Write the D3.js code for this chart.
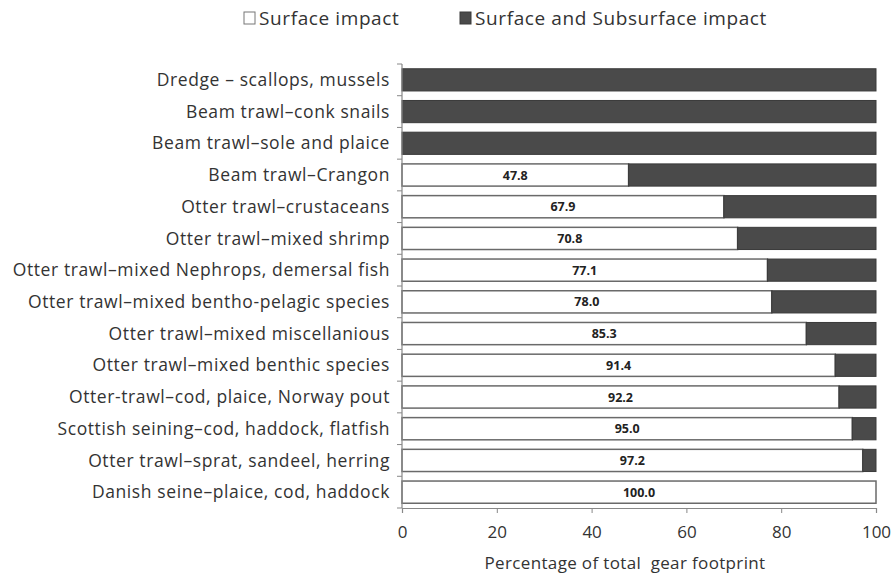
<!DOCTYPE html>
<html><head><meta charset="utf-8">
<script src="https://cdn.jsdelivr.net/npm/d3@7"></script>
<style>body{margin:0;background:#fff}</style>
</head><body>
<svg id="c" width="894" height="578"></svg>
<script>
const categories = [
  "Dredge – scallops, mussels",
  "Beam trawl–conk snails",
  "Beam trawl–sole and plaice",
  "Beam trawl–Crangon",
  "Otter trawl–crustaceans",
  "Otter trawl–mixed shrimp",
  "Otter trawl–mixed Nephrops, demersal fish",
  "Otter trawl–mixed bentho-pelagic species",
  "Otter trawl–mixed miscellanious",
  "Otter trawl–mixed benthic species",
  "Otter-trawl–cod, plaice, Norway pout",
  "Scottish seining–cod, haddock, flatfish",
  "Otter trawl–sprat, sandeel, herring",
  "Danish seine–plaice, cod, haddock"
];
const surface = [0, 0, 0, 47.8, 67.9, 70.8, 77.1, 78.0, 85.3, 91.4, 92.2, 95.0, 97.2, 100.0];
const subsurface = [100, 100, 100, 52.2, 32.1, 29.2, 22.9, 22.0, 14.7, 8.6, 7.8, 5.0, 2.8, 0];
const xTicks = [0, 20, 40, 60, 80, 100];
const seriesNames = ["Surface impact", "Surface and Subsurface impact"];

const font = "'Open Sans', Lato, sans-serif";
const svg = d3.select("#c");
const m = {l: 402, r: 876, t: 64, b: 508};
const x = d3.scaleLinear().domain([0, 100]).range([m.l, m.r]);
const y = d3.scaleBand().domain(categories).range([m.t, m.b]).paddingInner(0.3).paddingOuter(0.15);

const data = categories.map((c, i) => ({c, s: surface[i], d: subsurface[i]}));
const colS = "#ffffff", colD = "#4a4a4a";

// bars
const g = svg.append("g");
g.selectAll("rect.s").data(data.filter(d => d.s > 0)).join("rect")
  .attr("x", x(0)).attr("y", d => y(d.c))
  .attr("width", d => x(d.s) - x(0)).attr("height", y.bandwidth())
  .attr("fill", colS).attr("stroke", "#6a6a6a").attr("stroke-width", 1.5);
g.selectAll("rect.d").data(data.filter(d => d.d > 0)).join("rect")
  .attr("x", d => x(d.s)).attr("y", d => y(d.c))
  .attr("width", d => x(100) - x(d.s)).attr("height", y.bandwidth())
  .attr("fill", colD).attr("stroke", "#3a3a3a").attr("stroke-width", 1);

// value labels
g.selectAll("text.v").data(data.filter(d => d.s > 0)).join("text")
  .attr("x", d => (x(0) + x(d.s)) / 2).attr("y", d => y(d.c) + y.bandwidth() / 2)
  .attr("dy", "0.36em").attr("text-anchor", "middle")
  .attr("font-family", font).attr("font-weight", "bold").attr("font-size", 12.5).attr("fill", "#222")
  .text(d => d.s.toFixed(1));

// y axis
const ya = svg.append("g").attr("transform", `translate(${m.l},0)`);
ya.append("line").attr("x1", 0).attr("x2", 0).attr("y1", m.t).attr("y2", m.b).attr("stroke", "#888").attr("stroke-width", 1.2);
const step = (m.b - m.t) / categories.length;
ya.selectAll("line.t").data(d3.range(categories.length + 1)).join("line")
  .attr("x1", -5).attr("x2", 0).attr("y1", i => m.t + i * step).attr("y2", i => m.t + i * step)
  .attr("stroke", "#888");
svg.append("g").selectAll("text").data(categories).join("text")
  .attr("x", m.l - 12).attr("y", d => y(d) + y.bandwidth() / 2).attr("dy", "0.35em")
  .attr("text-anchor", "end").attr("font-family", font).attr("font-size", 17.5)
  .attr("letter-spacing", 0.6).attr("fill", "#333")
  .text(d => d);

// x axis
const xa = svg.append("g").attr("transform", `translate(0,${m.b})`)
  .call(d3.axisBottom(x).tickValues(xTicks).tickSize(5).tickPadding(13).tickFormat(d3.format("d")));
xa.select(".domain").attr("stroke", "#888").attr("stroke-width", 1.2);
xa.selectAll(".tick line").attr("stroke", "#888");
xa.selectAll("text").attr("font-family", font).attr("font-size", 17).attr("fill", "#333");
svg.append("text").attr("x", 625).attr("y", 569).attr("text-anchor", "middle")
  .attr("font-family", font).attr("font-size", 17).attr("letter-spacing", 0.35).attr("fill", "#333")
  .style("white-space", "pre")
  .text("Percentage of total  gear footprint");

// legend
const leg = [{n: seriesNames[0], x: 244, f: colS, s: "#777"}, {n: seriesNames[1], x: 460, f: colD, s: "#3a3a3a"}];
const lg = svg.append("g").selectAll("g").data(leg).join("g").attr("transform", d => `translate(${d.x},18)`);
lg.append("rect").attr("x", 0).attr("y", -6).attr("width", 11).attr("height", 12).attr("fill", d => d.f).attr("stroke", d => d.s);
lg.append("text").attr("x", 15).attr("dy", "0.35em").attr("font-family", font).attr("font-size", 19)
  .attr("letter-spacing", 0.6).attr("fill", "#333").text(d => d.n);
</script>
</body></html>
